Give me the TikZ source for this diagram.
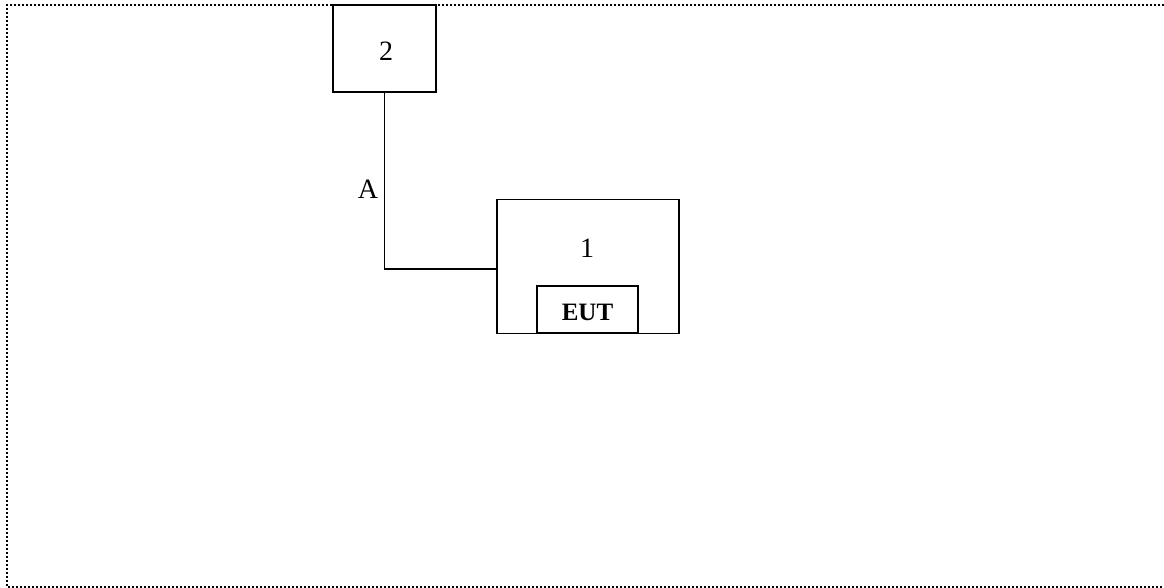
\documentclass[tikz,border=0pt]{standalone}
\usepackage{fontspec}
\setmainfont{Liberation Serif}
\begin{document}
\begin{tikzpicture}[x=1pt,y=-1pt,
  box/.style={draw=black,line width=1.7pt,inner sep=0pt},
  lbl/.style={font=\fontsize{28}{32}\selectfont,anchor=base,inner sep=0pt},
  conn/.style={draw=black,line width=1.7pt}]
\useasboundingbox (0,0) rectangle (1164,588);
\draw[line width=1.6pt,dash pattern=on 1.6pt off 2.4pt] (1164,5) -- (7,5) -- (7,587) -- (1164,587);
\node[box,minimum width=103pt,minimum height=87pt] (b2) at (384.5,48.5) {};
\node[lbl] (t2) at (386,61) {2};
\node[box,minimum width=182pt,minimum height=134pt] (b1) at (588,266.5) {};
\node[lbl] (t1) at (587,257) {1};
\node[box,minimum width=101pt,minimum height=47pt,anchor=south] (eut) at (587.5,333.5) {};
\node[lbl,font=\fontsize{25}{29}\selectfont\bfseries] (teut) at (587.5,320.5) {EUT};
\coordinate (corner) at (b2.south |- 0,269);
\draw[conn] (b2.south) -- (corner) -- (b1.west |- corner);
\node[lbl] (la) at (368,199) {A};
\end{tikzpicture}
\end{document}
